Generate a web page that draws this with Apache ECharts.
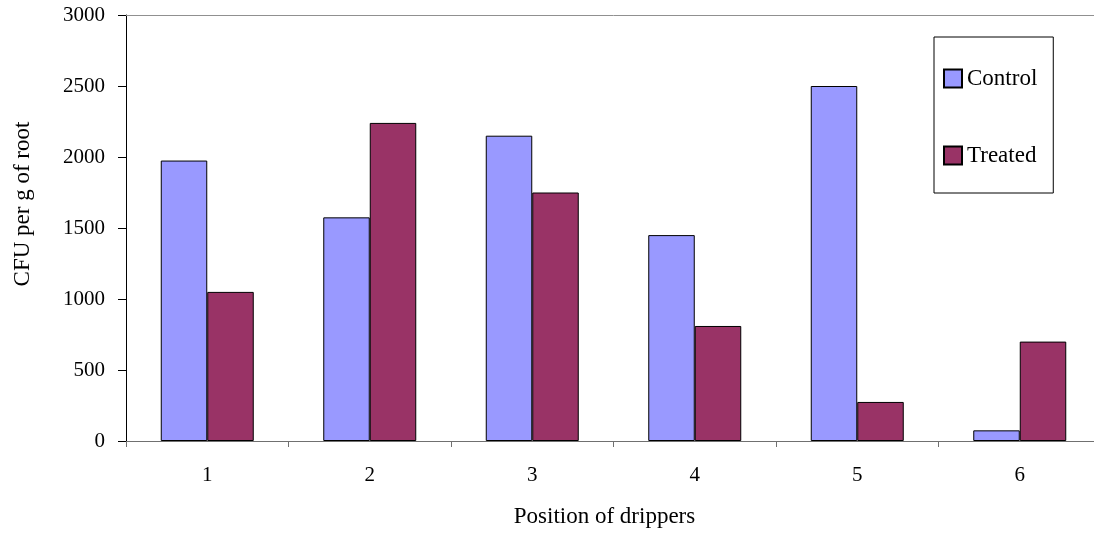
<!DOCTYPE html>
<html>
<head>
<meta charset="utf-8">
<script src="https://cdn.jsdelivr.net/npm/echarts@6/dist/echarts.min.js"></script>
<style>
html,body{margin:0;padding:0;background:#fff;overflow:hidden;width:1094px;height:533px;}
#c{width:1102px;height:533px;}
</style>
</head>
<body>
<div id="c"></div>
<script>
const categories = ['1', '2', '3', '4', '5', '6'];
const controlValues = [1975, 1575, 2150, 1450, 2500, 75];
const treatedValues = [1050, 2240, 1750, 810, 275, 700];
const seriesNames = ['Control', 'Treated'];
const yTicks = { min: 0, max: 3000, interval: 500 };

const FONT = 'Liberation Serif';
const FS = 21;
const FT = 23;
const chart = echarts.init(document.getElementById('c'));
chart.setOption({
  backgroundColor: '#fff',
  animation: false,
  textStyle: { fontFamily: FONT, color: '#000' },
  grid: { left: 126, top: 15, right: 1, height: 426, containLabel: false },
  legend: {
    orient: 'vertical',
    left: 934, top: 37,
    padding: [30, 16, 26, 9],
    itemWidth: 18, itemHeight: 18, itemGap: 54,
    backgroundColor: 'transparent',
    borderColor: '#000', borderWidth: 1,
    textStyle: { fontFamily: FONT, fontSize: FT, color: '#000', lineHeight: 18, padding: [0, 0, 0, 0] },
    icon: 'rect',
    data: seriesNames,
  },
  xAxis: [{
    type: 'category',
    data: categories,
    position: 'bottom',
    axisLine: { show: true, lineStyle: { color: '#707070', width: 1 } },
    axisTick: { show: true, alignWithLabel: false, length: 6, lineStyle: { color: '#707070' } },
    axisLabel: { fontFamily: FONT, fontSize: FS, color: '#000', margin: 24 },
    splitLine: { show: false },
    name: 'Position of drippers',
    nameLocation: 'middle',
    nameGap: 64,
    nameTextStyle: { fontFamily: FONT, fontSize: FT, color: '#000', padding: [0, 18, 0, 0] },
  }, {
    type: 'category',
    data: categories,
    position: 'top',
    axisLine: { show: true, lineStyle: { color: '#909090', width: 1 } },
    axisTick: { show: false },
    axisLabel: { show: false },
  }],
  yAxis: {
    type: 'value',
    min: yTicks.min, max: yTicks.max, interval: yTicks.interval,
    axisLine: { show: true, lineStyle: { color: '#000', width: 1 } },
    axisTick: { show: true, length: 8, lineStyle: { color: '#000' } },
    axisLabel: { fontFamily: FONT, fontSize: FS, color: '#000', margin: 21, formatter: v => String(v) },
    splitLine: { show: false },
    name: 'CFU per g of root',
    nameLocation: 'middle',
    nameGap: 92,
    nameTextStyle: { fontFamily: FONT, fontSize: FT, color: '#000', padding: [0, 0, 0, 48] },
  },
  series: [{
    name: seriesNames[0],
    type: 'bar',
    data: controlValues,
    barWidth: 46.5,
    barGap: '0%',
    itemStyle: { color: '#9999FF', borderColor: '#000', borderWidth: 1 },
  }, {
    name: seriesNames[1],
    type: 'bar',
    data: treatedValues,
    barWidth: 46.5,
    barGap: '0%',
    itemStyle: { color: '#993366', borderColor: '#000', borderWidth: 1 },
  }],
});
</script>
</body>
</html>
